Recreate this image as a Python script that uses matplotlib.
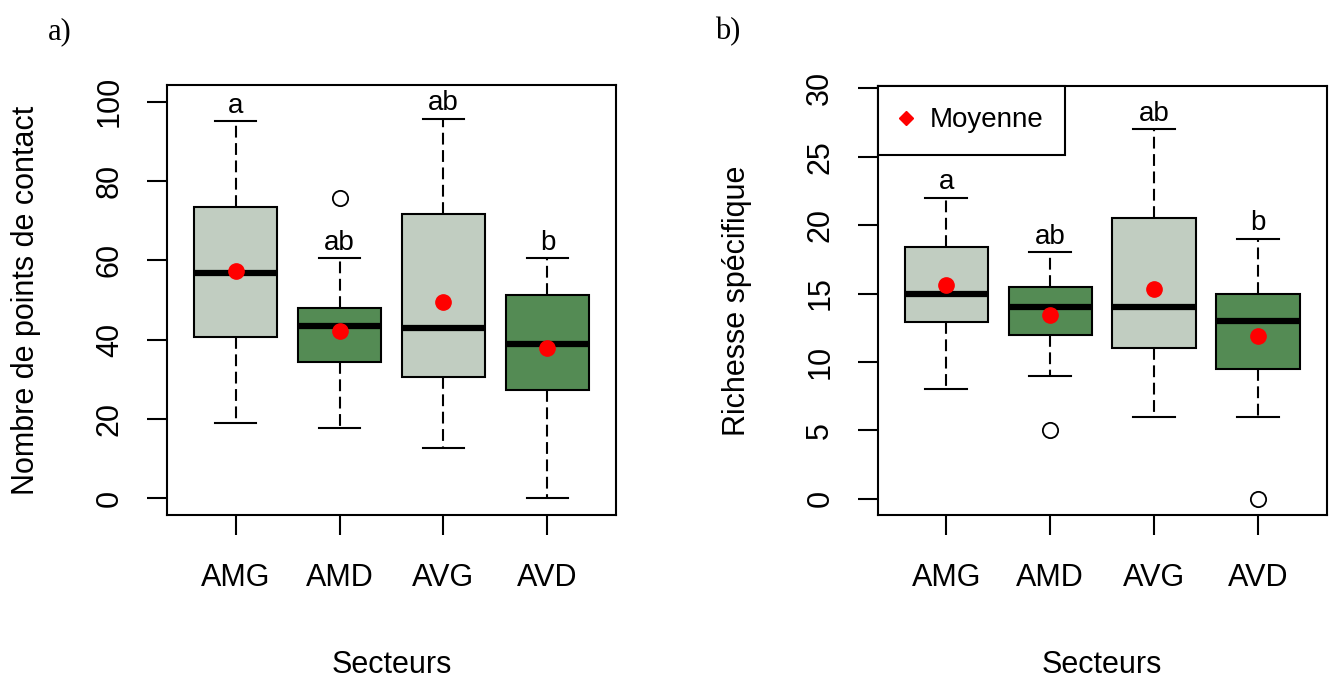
import matplotlib
matplotlib.use("Agg")
import matplotlib.pyplot as plt
from matplotlib.lines import Line2D

plt.rcParams['font.family'] = ['Liberation Sans', 'DejaVu Sans']
plt.rcParams['lines.scale_dashes'] = False

# ---------------- Data ----------------
groups = ['AMG', 'AMD', 'AVG', 'AVD']

# a) Nombre de points de contact
contact_q1 = [40.7, 34.4, 30.7, 27.3]
contact_med = [56.7, 43.4, 42.9, 39.0]
contact_q3 = [73.5, 47.9, 71.8, 51.2]
contact_lo = [19.0, 17.8, 12.8, 0.0]
contact_hi = [95.1, 60.6, 95.7, 60.6]
contact_mean = [57.3, 42.3, 49.5, 37.8]
contact_out = [[], [75.8], [], []]
contact_letters = ['a', 'ab', 'ab', 'b']

# b) Richesse specifique
rich_q1 = [12.9, 12.0, 11.0, 9.5]
rich_med = [15.0, 14.0, 14.0, 13.0]
rich_q3 = [18.4, 15.5, 20.5, 15.0]
rich_lo = [8, 9, 6, 6]
rich_hi = [22, 18, 27, 19]
rich_mean = [15.6, 13.4, 15.35, 11.9]
rich_out = [[], [5], [], [0]]
rich_letters = ['a', 'ab', 'ab', 'b']

box_colors = ['#C1CDC1', '#548B54', '#C1CDC1', '#548B54']
# ---------------------------------------


def make_stats(q1, med, q3, lo, hi, mean, out):
    stats = []
    for i, g in enumerate(groups):
        stats.append(dict(label=g, q1=q1[i], med=med[i], q3=q3[i],
                          whislo=lo[i], whishi=hi[i], mean=mean[i],
                          fliers=out[i]))
    return stats


def draw_panel(ax, stats, letters, ylim, yticks, ylabel):
    bp = ax.bxp(stats, positions=[1, 2, 3, 4], widths=0.8, patch_artist=True,
                showmeans=True, capwidths=0.4,
                boxprops=dict(edgecolor='black', linewidth=1.5),
                whiskerprops=dict(color='black', linewidth=1.5,
                                  linestyle=(0, (8.5, 4))),
                capprops=dict(color='black', linewidth=1.5),
                medianprops=dict(color='black', linewidth=4.5,
                                 solid_capstyle='butt'),
                meanprops=dict(marker='o', markerfacecolor='red',
                               markeredgecolor='red', markersize=11),
                flierprops=dict(marker='o', markerfacecolor='none',
                                markeredgecolor='black', markersize=11,
                                markeredgewidth=1.3))
    for patch, c in zip(bp['boxes'], box_colors):
        patch.set_facecolor(c)
    for m in bp['means']:
        m.set_zorder(5)

    # letters of the post-hoc test, above the upper whisker
    for i, s in enumerate(stats):
        ax.annotate(letters[i], xy=(i + 1, s['whishi']), xytext=(0, 6),
                    textcoords='offset points', ha='center', va='baseline',
                    fontsize=20)

    ax.set_xlim(0.34, 4.66)
    ax.set_ylim(*ylim)
    ax.set_yticks(yticks)
    ax.set_xticks([1, 2, 3, 4])
    ax.set_xticklabels(groups)
    for sp in ax.spines.values():
        sp.set_linewidth(1.5)
    ax.tick_params(axis='both', length=14.4, width=1.5, labelsize=22)
    ax.tick_params(axis='x', pad=20)
    ax.tick_params(axis='y', pad=16, labelrotation=90)
    for lbl in ax.get_yticklabels():
        lbl.set_va('center')
    ax.set_xlabel('Secteurs', fontsize=22)
    ax.set_ylabel(ylabel, fontsize=22)
    ax.xaxis.set_label_coords(0.5, -0.314)
    ax.yaxis.set_label_coords(-0.28, 0.5)


fig = plt.figure(figsize=(13.32, 6.82), dpi=100)
W, H = 1332, 682
ax_a = fig.add_axes([167 / W, 1 - 515 / H, (616 - 167) / W, (515 - 85) / H])
ax_b = fig.add_axes([877.5 / W, 1 - 515 / H, (1326.7 - 877.5) / W, (515 - 85.7) / H])

draw_panel(ax_a, make_stats(contact_q1, contact_med, contact_q3, contact_lo,
                            contact_hi, contact_mean, contact_out),
           contact_letters, (-4.2, 104.2), [0, 20, 40, 60, 80, 100],
           'Nombre de points de contact')
draw_panel(ax_b, make_stats(rich_q1, rich_med, rich_q3, rich_lo,
                            rich_hi, rich_mean, rich_out),
           rich_letters, (-1.2, 30.2), [0, 5, 10, 15, 20, 25, 30],
           'Richesse spécifique')

handle = Line2D([], [], marker='D', color='red', linestyle='none', markersize=7.5)
leg = ax_b.legend([handle], ['Moyenne'], loc='upper left', borderaxespad=0,
                  fancybox=False, edgecolor='black', framealpha=1, fontsize=20,
                  borderpad=0.78, handlelength=0.5, handletextpad=0.6)
leg.get_frame().set_linewidth(1.5)

fig.text(48 / W, 1 - 39 / H, 'a)', family='Liberation Serif', fontsize=22,
         ha='left', va='baseline')
fig.text(715 / W, 1 - 39 / H, 'b)', family='Liberation Serif', fontsize=22,
         ha='left', va='baseline')

fig.savefig('out.png', dpi=100)
